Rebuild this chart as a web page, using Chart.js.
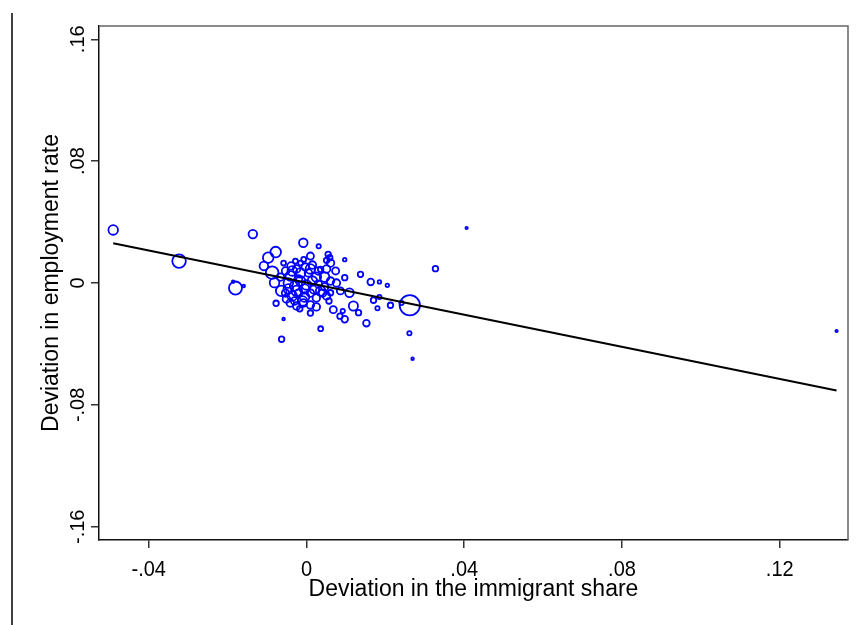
<!DOCTYPE html>
<html>
<head>
<meta charset="utf-8">
<script src="https://cdn.jsdelivr.net/npm/chart.js@4.4.1/dist/chart.umd.min.js"></script>
<style>
html,body{margin:0;padding:0;background:#fff;}
canvas{display:block;}
</style>
</head>
<body>
<canvas id="c" width="857" height="625"></canvas>
<script>
// ---- data ----
const immShare = [
 -0.0490,-0.0323,-0.0180,-0.0186,-0.0159,-0.0136, 0.0406, 0.0327, 0.0262, 0.0261,
  0.0269, 0.1344,-0.0063,-0.0058, 0.0036,-0.0008, 0.0031,-0.0078,-0.0097,-0.0108,
 -0.0087,-0.0077,-0.0064,-0.0081, 0.0097, 0.0055, 0.0059, 0.0051, 0.0074, 0.0137,
  0.0163, 0.0185, 0.0205, 0.0241, 0.0213, 0.0170, 0.0185, 0.0180, 0.0119, 0.0109,
  0.0086, 0.0097, 0.0068, 0.0092, 0.0085, 0.0097, 0.0132, 0.0152, 0.0010,-0.0017,
 -0.0039,-0.0028,-0.0007, 0.0010, 0.0036, 0.0057, 0.0061,
 -0.0053,-0.0041,-0.0025,-0.0015,-0.0003, 0.0015, 0.0030, 0.0046, 0.0061,-0.0046,
 -0.0030,-0.0015, 0.0000, 0.0015, 0.0030, 0.0046,-0.0053,-0.0036,-0.0020,-0.0005,
  0.0010, 0.0025, 0.0041,-0.0041,-0.0025,-0.0008, 0.0010, 0.0025,-0.0020,-0.0058,
 -0.0015, 0.0005, 0.0020,-0.0030,-0.0066, 0.0076, 0.0051,
 -0.0046,-0.0025,-0.0005, 0.0036,-0.0036, 0.0010, 0.0025,-0.0010,-0.0051, 0.0051,
  0.0061
];
const empRate = [
  0.0348, 0.0144,-0.0033, 0.0009,-0.0020, 0.0321, 0.0361, 0.0094,-0.0146,-0.0330,
 -0.0497,-0.0315,-0.0369,-0.0236,-0.0300, 0.0264, 0.0241, 0.0203, 0.0166, 0.0112,
  0.0068,-0.0133,-0.0052, 0.0002, 0.0153, 0.0188, 0.0166, 0.0149, 0.0079, 0.0057,
  0.0007, 0.0007,-0.0015,-0.0131,-0.0146,-0.0113,-0.0092,-0.0166,-0.0151,-0.0064,
 -0.0052, 0.0035,-0.0175,-0.0184,-0.0218,-0.0238,-0.0195,-0.0264,-0.0197,-0.0169,
  0.0112, 0.0144, 0.0155, 0.0177, 0.0090,-0.0118,-0.0064,
  0.0079, 0.0046, 0.0092, 0.0066, 0.0105, 0.0118, 0.0079, 0.0039, 0.0013, 0.0000,
 -0.0020, 0.0013,-0.0013, 0.0013,-0.0007,-0.0026,-0.0066,-0.0085,-0.0066,-0.0092,
 -0.0066,-0.0098,-0.0066,-0.0131,-0.0151,-0.0131,-0.0144,-0.0157, 0.0026, 0.0131,
  0.0131, 0.0066,-0.0039,-0.0118, 0.0039, 0.0000,-0.0085,
 -0.0039,-0.0052,-0.0039,-0.0052, 0.0079, 0.0092, 0.0039,-0.0118,-0.0105, 0.0092,
  0.0131
];
const popWeight = [
  30,56,52,4,4,25,3,12,118,8,
  4,3,12,4,10,25,8,36,36,25,
  49,12,36,30,6,12,12,12,18,12,
  16,6,6,8,12,12,8,8,28,25,
  18,12,18,8,12,16,12,16,12,12,
  20,10,10,18,12,12,12,
  20,30,20,30,20,20,20,30,20,30,
  30,30,30,30,20,20,20,30,20,30,
  20,20,20,20,20,20,20,20,20,10,
  10,20,30,20,20,20,20,
  30,36,30,30,30,30,30,30,20,20,
  20
];
const fitX = [-0.0490, 0.1344];
const fitY = [ 0.0261,-0.0705];
const xTicks = [-0.04, 0, 0.04, 0.08, 0.12];
const xTickLabels = ['-.04','0','.04','.08','.12'];
const yTicks = [-0.16, -0.08, 0, 0.08, 0.16];
const yTickLabels = ['-.16','-.08','0','.08','.16'];
const xTitle = 'Deviation in the immigrant share';
const yTitle = 'Deviation in employment rate';

const points = immShare.map((v,i)=>({x:v, y:empRate[i]}));
const fitLine = fitX.map((v,i)=>({x:v, y:fitY[i]}));

const FONT = '"Liberation Sans", Arial, sans-serif';

const deco = {
  id:'deco',
  beforeDraw(chart){
    const ctx = chart.ctx;
    ctx.save();
    ctx.fillStyle = '#fff';
    ctx.fillRect(0,0,chart.width,chart.height);
    ctx.restore();
  },
  afterDraw(chart){
    const {ctx, chartArea:a, scales:{x, y}} = chart;
    ctx.save();
    // plot region outline (top / right)
    ctx.strokeStyle = '#666';
    ctx.lineWidth = 1.5;
    ctx.beginPath();
    ctx.moveTo(a.left, a.top); ctx.lineTo(a.right, a.top); ctx.lineTo(a.right, a.bottom);
    ctx.stroke();
    // page frame line at left
    ctx.strokeStyle = '#000';
    ctx.lineWidth = 1.5;
    ctx.beginPath();
    ctx.moveTo(12, 13); ctx.lineTo(12, chart.height);
    ctx.stroke();

    ctx.fillStyle = '#000';
    // y tick labels (rotated)
    ctx.font = '20px ' + FONT;
    yTicks.forEach((v,i)=>{
      const py = y.getPixelForValue(v);
      ctx.save();
      ctx.translate(84, py);
      ctx.rotate(-Math.PI/2);
      ctx.textAlign = 'center';
      ctx.textBaseline = 'alphabetic';
      ctx.fillText(yTickLabels[i], 0, 0);
      ctx.restore();
    });
    // x tick labels
    ctx.textAlign = 'center';
    ctx.textBaseline = 'alphabetic';
    xTicks.forEach((v,i)=>{
      const px = x.getPixelForValue(v);
      ctx.save();
      ctx.translate(px, 576);
      ctx.scale(1, 1.08);
      ctx.fillText(xTickLabels[i], 0, 0);
      ctx.restore();
    });
    // axis titles
    ctx.font = '23px ' + FONT;
    ctx.save();
    ctx.translate((a.left + a.right)/2, 596);
    ctx.scale(1, 1.08);
    ctx.fillText(xTitle, 0, 0);
    ctx.restore();
    ctx.save();
    ctx.translate(58, (a.top + a.bottom)/2);
    ctx.rotate(-Math.PI/2);
    ctx.fillText(yTitle, 0, 0);
    ctx.restore();
    ctx.restore();
  }
};

const radiusFor = c => Math.max(1.2, Math.sqrt(popWeight[c.dataIndex]) - 0.7);

new Chart(document.getElementById('c'), {
  type:'scatter',
  data:{
    datasets:[
      {
        type:'scatter',
        data: points,
        borderColor:'#0000ff',
        backgroundColor:'rgba(0,0,0,0)',
        borderWidth:1.8,
        pointRadius: radiusFor,
        pointHoverRadius: radiusFor,
        order:2
      },
      {
        type:'line',
        data: fitLine,
        borderColor:'#000',
        borderWidth:2,
        pointRadius:0,
        fill:false,
        tension:0,
        order:1
      }
    ]
  },
  options:{
    responsive:false,
    animation:false,
    devicePixelRatio:1,
    events:[],
    layout:{ padding:{top:26, right:9, left:0, bottom:0}, autoPadding:false },
    plugins:{ legend:{display:false}, tooltip:{enabled:false}, title:{display:false} },
    scales:{
      x:{
        type:'linear', min:-0.0526, max:0.1373,
        afterBuildTicks: s => { s.ticks = xTicks.map(v=>({value:v})); },
        afterFit: s => { s.height = 85; },
        ticks:{ display:false },
        grid:{ drawOnChartArea:false, drawTicks:true, tickLength:8, color:'#333', lineWidth:1.5 },
        border:{ display:true, color:'#111', width:1.5 }
      },
      y:{
        type:'linear', min:-0.1687, max:0.1687,
        afterBuildTicks: s => { s.ticks = yTicks.map(v=>({value:v})); },
        afterFit: s => { s.width = 99; },
        ticks:{ display:false },
        grid:{ drawOnChartArea:false, drawTicks:true, tickLength:8, color:'#333', lineWidth:1.5 },
        border:{ display:true, color:'#111', width:1.5 }
      }
    }
  },
  plugins:[deco]
});
</script>
</body>
</html>
